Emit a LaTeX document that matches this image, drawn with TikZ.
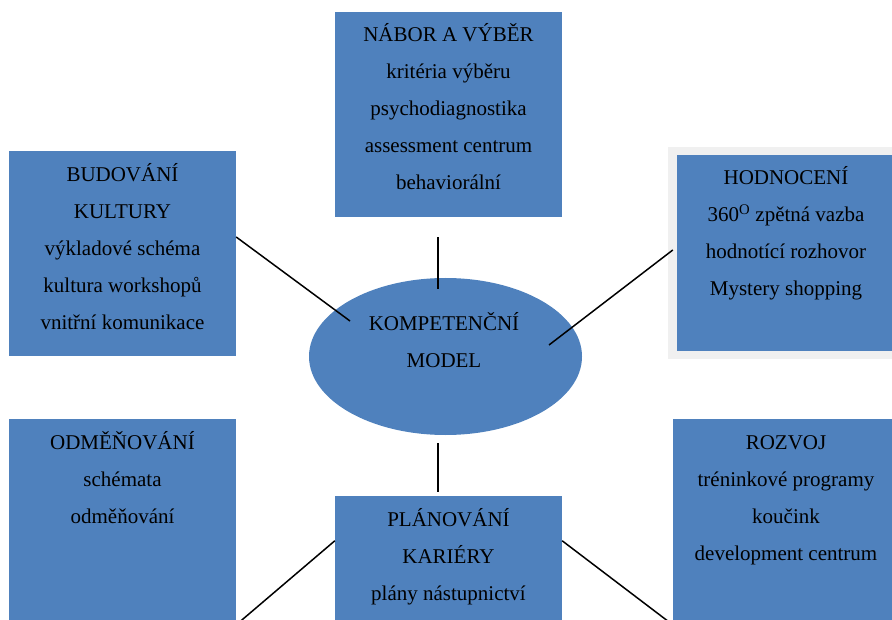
\documentclass[tikz,border=0pt]{standalone}
\usepackage{fontspec}
\setmainfont{Liberation Serif}
\usetikzlibrary{shapes.geometric}
\definecolor{areacolor}{HTML}{4F81BD}
\definecolor{framecolor}{HTML}{F0F0F0}
\newcommand{\areafont}{\fontsize{21}{37}\selectfont}

\begin{document}
\begin{tikzpicture}[x=1pt, y=-1pt,
        areabox/.style={rectangle, fill=areacolor, inner sep=0pt},
        areatext/.style={align=center, anchor=base, font=\areafont, inner sep=0pt},
        link/.style={black, line width=1.5pt}]
    \useasboundingbox (0,0) rectangle (892,620);
    \clip (0,0) rectangle (892,620);
    % --- HR areas (boxes) ---
    \node[areabox, minimum width=227pt, minimum height=205pt] (nabor) at (448.5,114.5) {};
    \node[areabox, minimum width=227pt, minimum height=205pt] (budovani) at (122.5,253.5) {};
    \fill[framecolor] (668,147) rectangle (900,359);
    \node[areabox, minimum width=218pt, minimum height=196pt] (hodnoceni) at (786,253) {};
    \node[areabox, minimum width=227pt, minimum height=221pt] (odmenovani) at (122.5,529.5) {};
    \node[areabox, minimum width=226pt, minimum height=221pt] (rozvoj) at (786,529.5) {};
    \node[areabox, minimum width=227pt, minimum height=144pt] (planovani) at (448.5,568) {};
    \node[ellipse, fill=areacolor, minimum width=273pt, minimum height=157pt, inner sep=0pt] (model) at (445.5,356.5) {};
    % --- texts (anchored at the baseline of the last line) ---
    \node[areatext] (nabortext) at (448.5,190) {NÁBOR A VÝBĚR\\kritéria výběru\\psychodiagnostika\\assessment centrum\\behaviorální};
    \node[areatext] (budovanitext) at (122.5,330) {BUDOVÁNÍ\\KULTURY\\výkladové schéma\\kultura workshopů\\vnitřní komunikace};
    \node[areatext] (hodnocenitext) at (786,296) {HODNOCENÍ\\360\textsuperscript{O} zpětná vazba\\hodnotící rozhovor\\Mystery shopping};
    \node[areatext] (modeltext) at (444,368) {KOMPETENČNÍ\\MODEL};
    \node[areatext] (odmenovanitext) at (122.5,523) {ODMĚŇOVÁNÍ\\schémata\\odměňování};
    \node[areatext] (rozvojtext) at (786,560) {ROZVOJ\\tréninkové programy\\koučink\\development centrum};
    \node[areatext] (planovanitext) at (448.5,600) {PLÁNOVÁNÍ\\KARIÉRY\\plány nástupnictví};
    % --- connectors ---
    \coordinate (model-n) at (438,289);
    \coordinate (model-s) at (438,443);
    \coordinate (model-nw) at (350,321);
    \coordinate (model-ne) at (549,345);
    \coordinate (odmenovani-end) at (236,625);
    \coordinate (rozvoj-end) at (673,625);
    \draw[link] ([xshift=-10.5pt, yshift=-20pt]nabor.south) -- (model-n);
    \draw[link] (model-s) -- ([xshift=-10.5pt, yshift=4pt]planovani.north);
    \draw[link] ([yshift=16.5pt]budovani.east) -- (model-nw);
    \draw[link] (model-ne) -- ([xshift=-4pt, yshift=3pt]hodnoceni.west);
    \draw[link] ([yshift=-45pt]planovani.north west) -- (odmenovani-end);
    \draw[link] ([yshift=-45pt]planovani.north east) -- (rozvoj-end);
\end{tikzpicture}
\end{document}
